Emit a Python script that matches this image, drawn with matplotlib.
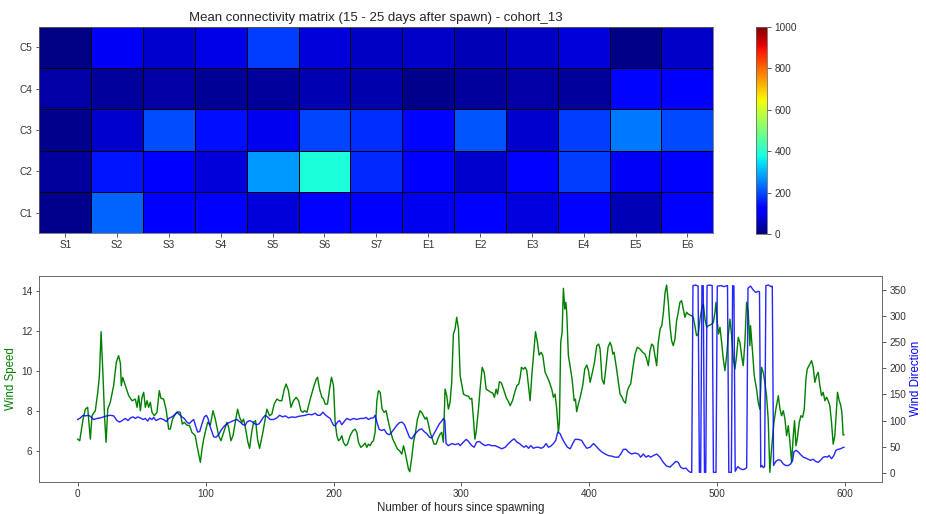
import numpy as np
import matplotlib
matplotlib.use("Agg")
import matplotlib.pyplot as plt

plt.rcParams['font.family'] = ['Liberation Sans', 'DejaVu Sans']
plt.rcParams['text.color'] = '0.15'
plt.rcParams['axes.labelcolor'] = '0.15'
plt.rcParams['xtick.color'] = '0.2'
plt.rcParams['ytick.color'] = '0.2'
plt.rcParams['axes.edgecolor'] = '0.4'
plt.rcParams['axes.labelsize'] = 11.5

# connectivity matrix, rows C1..C5 (bottom to top)
sources = ["S1", "S2", "S3", "S4", "S5", "S6", "S7", "E1", "E2", "E3", "E4", "E5", "E6"]
cohorts = ["C1", "C2", "C3", "C4", "C5"]
conn_c1 = [12, 225, 122, 118, 80, 125, 118, 100, 110, 85, 125, 50, 118]
conn_c2 = [25, 148, 115, 80, 275, 385, 165, 110, 70, 125, 185, 108, 115]
conn_c3 = [15, 70, 200, 140, 100, 195, 170, 130, 210, 70, 185, 245, 198]
conn_c4 = [32, 25, 32, 20, 25, 45, 40, 15, 25, 35, 25, 132, 118]
conn_c5 = [5, 105, 68, 90, 185, 80, 60, 65, 50, 60, 80, 8, 66]

# wind speed
speed_hours = [0, 1.6, 2.6, 4.2, 6.0, 7.8, 9.9, 11.2, 13.8, 15.7, 17.0, 18.3, 19.8, 21.1, 22.2, 23.5, 25.5, 28.1, 30.2, 32.0,
               33.4, 34.1, 35.2, 37.3, 39.9, 42.5, 45.1, 46.4, 47.7, 49.0, 50.3, 51.6, 52.9, 54.2, 55.5, 56.8, 58.1, 59.9, 62.0, 63.8,
               65.1, 67.2, 69.3, 71.1, 72.4, 74.2, 76.3, 78.4, 80.2, 81.8, 83.3, 85.4, 87.5, 89.3, 91.9, 93.8, 95.9, 97.2, 98.5, 100.0,
               101.6, 103.7, 105.8, 107.6, 110.2, 112.0, 114.1, 115.4, 116.7, 118.0, 119.8, 121.4, 123.0, 125.0, 126.6, 128.4, 129.7, 131.5, 133.1, 134.4,
               136.0, 137.5, 139.1, 140.6, 142.2, 144.8, 146.6, 147.9, 150, 151.8, 153.6, 155.7, 157.8, 159.6, 161.5, 163, 164.8, 166.7, 168.7, 170.8,
               172.7, 174.5, 176, 177.3, 179.2, 181.8, 184.4, 186.5, 187.5, 189.1, 190.9, 192.2, 193.5, 195.3, 196.9, 198.4, 200, 201.3, 202.6, 203.9,
               205.2, 206.5, 207.8, 209.4, 210.9, 213, 215.1, 216.9, 218.2, 219.5, 221.3, 222.9, 224.7, 226, 227.3, 228.6, 229.9, 231.2, 232.5, 233.9,
               235.1, 236.5, 238, 239.6, 241.1, 243, 244.8, 246.3, 248.2, 250, 251.6, 253.4, 254.7, 256, 257.3, 258.6, 259.6, 261.2, 262.5, 264.1,
               265.6, 267.7, 269.3, 270.3, 271.6, 272.9, 274.2, 275.5, 276.8, 278.6, 280.2, 281.5, 283.3, 284.6, 285.9, 287.2, 288.5, 289.8, 291.1, 292.4,
               293.7, 295, 296.3, 297.7, 299, 301.6, 303.7, 305.5, 306.8, 308.1, 309.4, 310.5, 311.5, 313.3, 314.6, 316.2, 317.8, 319.3, 321.1, 323,
               324.5, 325.8, 327.1, 328.2, 329.7, 331.3, 332.9, 334.9, 336.8, 338.1, 339.9, 341.7, 343.3, 344.8, 345.9, 346.9, 348.5, 349.8, 351.1, 352.4,
               353.7, 355, 356.3, 357.9, 359.4, 360.7, 362.3, 363.6, 365.4, 367.2, 368.8, 370.6, 371.9, 373.2, 374.5, 375.8, 376.6, 377.6, 378.7, 379.7,
               380.8, 381.6, 382.3, 383.6, 384.9, 386.5, 388.1, 389.1, 390.1, 391.4, 392.8, 394.8, 396.4, 398, 399.3, 400.6, 402.4, 404, 405.8, 407.3,
               408.4, 409.9, 411.5, 413.1, 414.6, 416.2, 417.5, 418.3, 419.3, 420.9, 422.7, 424, 425.6, 426.6, 428.2, 429.7, 431.3, 432.3, 433.9, 435.7,
               437.5, 439.6, 441.7, 443.5, 444.8, 446.1, 447.4, 448.7, 450, 451.3, 452.6, 453.9, 455.3, 456.6, 457.9, 459.2, 460.4, 461.7, 463, 464.3,
               465.6, 466.9, 468.2, 469.5, 470.8, 472.1, 473.4, 474.7, 476, 477.3, 478.6, 479.9, 481.2, 482.5, 483.8, 485.1, 486.5, 487.8, 489.1, 490.4,
               491.7, 493, 494.3, 495.6, 496.9, 498.2, 499, 500, 501, 502.1, 503.4, 504.7, 506, 507.3, 508.6, 509.9, 511.2, 512.5, 513.8, 515.1,
               516.4, 517.7, 519, 520.3, 521.6, 522.9, 524.2, 525.5, 526, 527.6, 528.9, 530.7, 532, 533.3, 534.6, 535.9, 537.2, 538.5, 539.8, 541.1,
               542.4, 544.3, 545.8, 547.7, 549, 550.3, 551.6, 552.9, 554.2, 555.5, 556.8, 558.1, 559.4, 560.4, 561.5, 562.5, 564.1, 565.4, 566.7, 568,
               569.3, 570.3, 571.9, 573.7, 575, 576.3, 577.6, 578.9, 580.2, 581.5, 582.8, 584.1, 585.4, 586.7, 588, 589.3, 590.6, 591.9, 593.2, 594,
               595.3, 596.3, 597.4, 598.4, 599]
speed_vals = [6.58, 6.5, 6.92, 7.58, 8.08, 8.17, 6.58, 7.75, 8.0, 8.92, 9.75, 11.95, 9.75, 7.58, 6.42, 8.08, 8.42, 9.25, 10.42, 10.75,
              10.38, 9.25, 9.67, 9.25, 8.75, 8.5, 8.58, 8.17, 8.75, 8.0, 8.67, 8.92, 8.17, 8.5, 8.17, 8.42, 7.92, 7.75, 7.92, 9.0,
              8.62, 8.58, 8.0, 7.08, 7.08, 7.58, 7.83, 7.95, 7.92, 7.33, 7.42, 7.28, 7.25, 6.92, 6.75, 6.08, 5.42, 6.08, 6.58, 7.0,
              7.42, 7.28, 8.0, 7.58, 6.75, 6.5, 6.92, 7.17, 7.42, 7.17, 6.5, 6.75, 7.33, 8.08, 7.67, 7.42, 7.58, 7.0, 6.42, 6.12,
              6.92, 7.42, 7.5, 6.58, 6.12, 6.92, 7.58, 8.08, 7.75, 7.83, 8.33, 8.58, 8.5, 8.5, 9.08, 9.33, 9.0, 8.17, 8.5, 8.67,
              8.5, 8.0, 7.92, 8.0, 7.92, 8.58, 9.17, 9.58, 9.67, 9.08, 8.67, 8.58, 8.33, 8.33, 9.08, 9.67, 9.25, 7.42, 6.75, 6.5,
              6.58, 6.75, 6.42, 6.25, 6.33, 6.75, 7.0, 7.08, 6.92, 6.42, 6.17, 6.25, 6.38, 6.17, 6.33, 6.25, 6.42, 6.5, 6.92, 8.5,
              9.0, 8.92, 8.08, 7.92, 8.0, 7.42, 6.92, 6.58, 6.33, 6.08, 6.0, 5.83, 6.25, 5.92, 5.5, 5.08, 4.95, 5.67, 6.42, 6.92,
              7.58, 8.0, 7.88, 7.75, 7.58, 7.67, 7.33, 6.92, 6.67, 6.33, 6.33, 6.58, 6.83, 6.92, 6.42, 9.08, 8.75, 8.08, 8.42, 9.42,
              11.83, 12.08, 12.67, 12.08, 9.75, 8.83, 8.75, 8.72, 8.58, 8.62, 7.58, 6.58, 6.92, 8.08, 9.08, 10.17, 9.92, 9.08, 9.0, 8.92,
              8.88, 8.67, 9.08, 8.83, 9.45, 9.38, 9.08, 8.67, 8.45, 8.25, 8.5, 8.92, 9.25, 9.33, 9.67, 10.17, 10.08, 10.17, 10.0, 9.25,
              8.5, 9.75, 10.75, 11.95, 11.42, 10.78, 10.92, 10.75, 9.92, 9.67, 9.42, 9.08, 8.67, 8.83, 8.08, 6.92, 7.42, 11.42, 11.92, 14.12,
              13.08, 13.42, 12.92, 10.75, 10.25, 9.58, 8.5, 8.58, 7.95, 8.33, 8.67, 9.25, 10.08, 10.28, 10.0, 9.42, 9.92, 10.42, 11.25, 11.33,
              11.08, 9.58, 9.33, 10.25, 11.17, 11.42, 11.17, 10.83, 10.92, 10.25, 9.42, 8.83, 8.67, 8.5, 8.38, 9.0, 9.25, 9.33, 10.08, 10.83,
              11.17, 11.08, 10.92, 10.83, 10.58, 10.25, 11.0, 11.33, 11.25, 10.75, 10.25, 11.42, 12.08, 12.25, 12.92, 13.92, 14.28, 13.42, 12.25, 11.5,
              11.25, 11.58, 12.5, 12.92, 13.42, 13.5, 13.08, 12.67, 12.92, 12.83, 12.78, 12.75, 12.67, 12.25, 11.75, 11.83, 12.58, 13.08, 13.33, 12.58,
              12.17, 12.25, 12.28, 12.33, 12.42, 12.92, 13.42, 12.42, 11.83, 12.17, 11.42, 10.58, 10.0, 10.75, 11.75, 12.58, 11.75, 10.58, 10.08, 10.75,
              11.67, 11.42, 10.75, 10.25, 11.42, 13.42, 12.92, 11.25, 12.25, 10.92, 9.75, 9.08, 8.42, 8.08, 10.17, 9.92, 9.42, 8.75, 7.58, 4.92,
              6.08, 7.42, 8.08, 8.75, 8.08, 7.75, 8.0, 7.58, 6.75, 7.25, 6.42, 5.42, 6.75, 7.5, 6.25, 6.58, 7.42, 7.75, 7.67, 8.08,
              9.58, 10.08, 10.28, 10.5, 10.17, 9.42, 9.75, 9.92, 9.25, 8.75, 8.92, 8.5, 8.67, 8.5, 8.25, 7.42, 6.33, 6.75, 8.08, 8.92,
              8.5, 8.33, 7.92, 6.78, 6.8]

# wind direction
dir_hours = [0, 2.1, 4.2, 6, 8.6, 10.4, 12.5, 15.1, 17.7, 20.3, 22.9, 25.5, 28.1, 30.7, 32.8, 34.7, 37.3, 39.4, 41.2, 43.3,
             45.1, 46.9, 49, 51.1, 52.9, 54.7, 56.3, 58.1, 59.4, 61.2, 63.0, 64.6, 67.2, 69.3, 71.1, 73.7, 75.8, 77.6, 79.7, 81.5,
             83.3, 85.4, 87.3, 88.8, 90.7, 92, 93.8, 95.4, 97.2, 99, 100.6, 101.9, 103.2, 105, 106.3, 108.1, 110.2, 112, 114.1, 116.7,
             119.3, 121.9, 124.5, 127.1, 129.2, 131, 132.3, 134.4, 136.2, 138.3, 140.1, 141.9, 144.8, 146.6, 148.4, 150.5, 153.1, 155.7, 157.8, 160.4,
             162.2, 164.8, 167.4, 170, 172.6, 175.3, 177.9, 180.5, 183.1, 185.7, 187.5, 189.6, 191.7, 193.5, 195.6, 197.4, 198.7, 200, 201.3, 203.1,
             204.7, 206.5, 208.3, 210.4, 213, 215.6, 218.2, 220.8, 223.4, 225.5, 227.3, 229.4, 231.2, 232.5, 233.9, 235.7, 237.8, 239.6, 241.7, 243.7,
             245.6, 247.4, 249.5, 251.6, 253.6, 255.5, 257.3, 259.4, 261.2, 263, 265.1, 267.2, 269, 270.8, 272.9, 275, 276.8, 278.6, 280.7, 282.8,
             283.9, 284.9, 286, 287, 288, 289.8, 292.4, 295, 297.7, 299, 301.6, 303.7, 305.5, 308.1, 309.9, 312, 314.1, 315.9, 318.5, 321.1,
             323.7, 326.3, 329, 331.6, 334.2, 336.8, 339.4, 341.2, 343.3, 345.4, 347.2, 349, 350.6, 352.4, 354.2, 356.3, 358.4, 360.2, 362.3, 364.1,
             366.2, 368, 369.8, 371.9, 373.7, 375.3, 377.1, 378.9, 381, 382.9, 385, 387, 388.8, 391.4, 394, 395.9, 398, 400.6, 403.2, 405.3,
             407.1, 409.7, 412.3, 414.9, 417.5, 420.1, 422.7, 424.5, 426.6, 428.7, 430.5, 433.1, 435.7, 438.3, 440.1, 442.2, 444.3, 446.1, 447.9, 450,
             452.6, 455.2, 457.8, 460.4, 463, 465.6, 467.7, 469.5, 471.3, 473.4, 475.5, 477.3, 479, 480, 481, 483, 485, 486, 487, 488,
             489, 490, 491, 492, 494, 496, 497, 499, 500, 503, 505, 508, 509, 511, 512, 513, 514, 516, 518, 520,
             522, 523, 524, 526, 528, 530, 532, 533, 534, 535, 536, 537, 538, 540, 542, 543, 544, 545.8, 547.6, 549.5,
             551.6, 553.6, 555.5, 557.3, 558.9, 559.9, 561.5, 563.3, 565.1, 567.2, 569.3, 571.1, 572.9, 575, 576.8, 578.9, 580.7, 582.8, 584.6, 585.9,
             587.5, 589.3, 591.1, 592.7, 594.5, 596.3, 597.9, 599]
dir_vals = [102, 105, 110, 109, 110, 107, 102, 104, 105, 107, 109, 110, 109, 100, 97, 100, 104, 100, 105, 107,
            104, 107, 105, 102, 104, 99, 105, 102, 106, 100, 102, 104, 102, 98, 104, 107, 111, 116, 111, 107,
            104, 97, 94, 98, 102, 91, 78, 79, 94, 107, 110, 104, 91, 78, 69, 68, 73, 81, 88, 94,
            97, 100, 102, 97, 92, 91, 97, 100, 98, 94, 92, 94, 105, 110, 107, 102, 102, 105, 110, 107,
            109, 105, 107, 106, 108, 109, 110, 112, 111, 114, 110, 110, 116, 111, 107, 104, 97, 91, 90, 97,
            100, 92, 98, 104, 101, 104, 102, 104, 104, 106, 102, 105, 105, 110, 97, 83, 81, 83, 75, 73,
            78, 84, 91, 96, 97, 92, 81, 68, 65, 72, 78, 83, 84, 79, 75, 68, 67, 75, 84, 94,
            97, 100, 104, 100, 56, 52, 56, 54, 56, 52, 59, 64, 60, 52, 49, 59, 60, 56, 52, 54,
            52, 52, 49, 46, 49, 56, 62, 65, 59, 56, 52, 49, 52, 47, 52, 47, 49, 49, 47, 49,
            56, 49, 51, 56, 62, 78, 75, 65, 56, 49, 46, 56, 64, 64, 62, 54, 47, 49, 56, 51,
            46, 40, 36, 33, 32, 30, 30, 36, 45, 45, 40, 36, 38, 36, 30, 36, 30, 33, 30, 33,
            36, 30, 20, 13, 11, 17, 22, 20, 11, 8, 9, 4, 1, 1, 358, 359, 357, 1, 1, 358,
            358, 1, 1, 358, 359, 358, 1, 1, 357, 358, 356, 358, 1, 1, 358, 357, 3, 12, 8, 6,
            8, 10, 353, 357, 350, 345, 347, 346, 11, 14, 10, 12, 358, 359, 356, 357, 14, 22, 25, 24,
            17, 14, 14, 17, 24, 40, 43, 40, 35, 30, 28, 26, 24, 26, 22, 20, 24, 30, 31, 30,
            33, 27, 33, 43, 45, 46, 48, 49]

W, H = 926, 514
fig = plt.figure(figsize=(W / 72, H / 72), dpi=72)

# top: heatmap
ax1 = fig.add_axes([39.3 / W, 1 - 233.3 / H, 674 / W, 206.6 / H])
matrix = np.array([conn_c1, conn_c2, conn_c3, conn_c4, conn_c5])
mesh = ax1.pcolormesh(matrix, cmap='jet', vmin=0, vmax=1000, edgecolors='k', linewidth=0.8)
ax1.set_xticks(np.arange(len(sources)) + 0.5)
ax1.set_xticklabels(sources)
ax1.set_yticks(np.arange(len(cohorts)) + 0.5)
ax1.set_yticklabels(cohorts)
ax1.set_title("Mean connectivity matrix (15 - 25 days after spawn) - cohort_13", fontsize=13.2)

cax = fig.add_axes([756 / W, 1 - 234 / H, 11.3 / W, 207.3 / H])
cb = fig.colorbar(mesh, cax=cax, ticks=[0, 200, 400, 600, 800, 1000])
cb.outline.set_edgecolor('0.4')

# bottom: wind speed + direction
ax2 = fig.add_axes([39.3 / W, 1 - 481.7 / H, 843 / W, 206 / H])
ax2.plot(speed_hours, speed_vals, color='green', lw=1.4)
ax2.set_ylabel("Wind Speed", color='green')
ax2.set_xlabel("Number of hours since spawning", labelpad=3)
ax2.set_xlim(-30, 629)

ax3 = ax2.twinx()
ax3.plot(dir_hours, dir_vals, color='blue', lw=1.4, alpha=0.85)
ax3.set_ylabel("Wind Direction", color='blue')

fig.savefig("out.png", dpi=72)
